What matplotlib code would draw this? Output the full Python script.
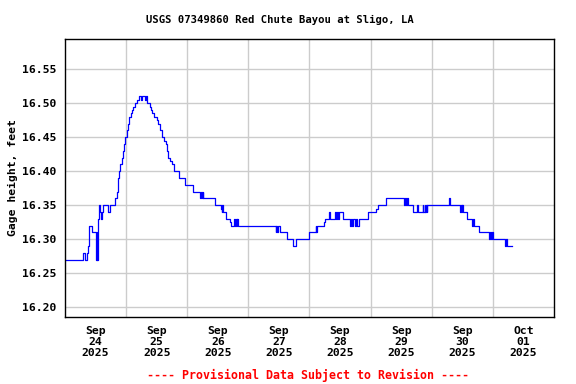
import numpy as np
import pandas as pd
import matplotlib
matplotlib.use('Agg')
import matplotlib.pyplot as plt
import matplotlib.dates as mdates

# hours since Sep 24 2025 00:00 and gage height (ft)
horas = [0, 7.2, 8.0, 8.5, 8.9, 9.3, 9.6, 10.5, 12.25, 12.5, 12.75, 13.0, 13.2, 13.5,
         13.7, 14.2, 14.7, 15.0, 17.0, 17.5, 19.8, 20.3, 20.8, 21.3, 21.7, 22.3, 22.7,
         23.2, 23.7, 24.5, 24.8, 25.3, 25.8, 26.3, 26.8, 27.5, 28.1, 28.9, 30.0, 30.3,
         31.5, 31.9, 32.3, 33.4, 33.8, 34.3, 34.8, 36.0, 36.5, 37.4, 38.0, 39.0, 39.6,
         40.0, 40.6, 41.4, 42.0, 42.7, 44.7, 47.0, 50.1, 53.0, 53.4, 53.8, 54.0, 54.3,
         58.8, 61.1, 61.5, 61.8, 62.0, 63.1, 64.8, 65.3, 66.5, 66.8, 67.1, 67.4, 67.7,
         68.0, 82.7, 83.0, 83.4, 83.8, 84.4, 87.0, 89.6, 90.6, 95.9, 98.5, 98.6, 98.9,
         101.7, 102.2, 103.8, 104.2, 106.0, 106.4, 106.8, 107.2, 107.7, 109.0, 111.9,
         112.3, 112.6, 113.0, 113.9, 114.3, 114.8, 115.3, 119.1, 122.3, 123.0, 126.0,
         133.1, 133.5, 133.9, 134.3, 134.8, 136.5, 138.3, 138.8, 140.4, 140.7, 141.2,
         141.5, 141.9, 142.1, 142.3, 150.9, 151.3, 155.1, 155.4, 155.7, 155.9, 156.1,
         157.7, 159.7, 160.1, 160.5, 162.7, 166.5, 166.9, 167.3, 167.6, 167.9, 172.8,
         173.1, 173.4, 175.4]
altura = [16.27, 16.28, 16.27, 16.28, 16.29, 16.30, 16.32, 16.31, 16.27, 16.31, 16.27,
          16.33, 16.34, 16.35, 16.34, 16.33, 16.34, 16.35, 16.34, 16.35, 16.36, 16.37,
          16.39, 16.40, 16.41, 16.42, 16.43, 16.44, 16.45, 16.46, 16.47, 16.48, 16.485,
          16.49, 16.495, 16.50, 16.505, 16.51, 16.505, 16.51, 16.505, 16.51, 16.50,
          16.495, 16.49, 16.485, 16.48, 16.475, 16.47, 16.46, 16.45, 16.445, 16.44,
          16.43, 16.42, 16.415, 16.41, 16.40, 16.39, 16.38, 16.37, 16.36, 16.37, 16.36,
          16.37, 16.36, 16.35, 16.345, 16.34, 16.35, 16.34, 16.33, 16.325, 16.32, 16.33,
          16.32, 16.33, 16.32, 16.33, 16.32, 16.31, 16.32, 16.31, 16.32, 16.31, 16.30,
          16.29, 16.30, 16.31, 16.32, 16.31, 16.32, 16.325, 16.33, 16.34, 16.33, 16.34,
          16.33, 16.34, 16.33, 16.34, 16.33, 16.32, 16.33, 16.32, 16.33, 16.32, 16.33,
          16.32, 16.33, 16.34, 16.345, 16.35, 16.36, 16.35, 16.36, 16.35, 16.36, 16.35,
          16.34, 16.35, 16.34, 16.35, 16.34, 16.35, 16.34, 16.35, 16.34, 16.35, 16.36,
          16.35, 16.34, 16.35, 16.34, 16.35, 16.34, 16.33, 16.32, 16.33, 16.32, 16.31,
          16.30, 16.31, 16.30, 16.31, 16.30, 16.29, 16.30, 16.29, 16.29]

y_ticks = [16.20, 16.25, 16.30, 16.35, 16.40, 16.45, 16.50, 16.55]
dias = pd.date_range('2025-09-24', '2025-10-01', freq='D')

inicio = pd.Timestamp('2025-09-24')
tiempo = inicio + pd.to_timedelta(horas, unit='h')

fuente = 'DejaVu Sans Mono'

fig = plt.figure(figsize=(5.76, 3.84), dpi=100)
ax = fig.add_axes([0.1128, 0.1753, 0.849, 0.7224])

ax.step(tiempo, altura, where='post', color='#0000FF', linewidth=0.9)

ax.set_xlim(pd.Timestamp('2025-09-24'), pd.Timestamp('2025-10-02'))
ax.set_ylim(16.186, 16.594)

# gridlines at midnight, labels at noon
ax.set_xticks([d for d in pd.date_range('2025-09-25', '2025-10-01', freq='D')], minor=True)
ax.set_xticks([d + pd.Timedelta(hours=12) for d in dias])
ax.set_xticklabels([d.strftime('%b\n%d\n%Y') for d in dias], fontfamily=fuente,
                   fontweight='bold', fontsize=8.2, linespacing=1.12)
ax.set_yticks(y_ticks)
ax.set_yticklabels(['%.2f' % v for v in y_ticks], fontfamily=fuente,
                   fontweight='bold', fontsize=8.2)
ax.tick_params(axis='both', which='both', length=0)
ax.tick_params(axis='x', pad=6.5)
ax.tick_params(axis='y', pad=6)

ax.grid(True, which='minor', axis='x', color='#CCCCCC', linewidth=1)
ax.grid(True, which='major', axis='y', color='#CCCCCC', linewidth=1)
ax.grid(False, which='major', axis='x')
ax.set_axisbelow(True)
for s in ax.spines.values():
    s.set_linewidth(1)
    s.set_color('black')

ax.set_ylabel('Gage height, feet', fontfamily=fuente, fontweight='bold', fontsize=8.2)
ax.yaxis.set_label_coords(-0.097, 0.5)

fig.text(280 / 576, 1 - 20 / 384, 'USGS 07349860 Red Chute Bayou at Sligo, LA',
         ha='center', va='center', fontfamily=fuente, fontweight='bold', fontsize=7.6)
fig.text(308 / 576, 1 - 375 / 384, '---- Provisional Data Subject to Revision ----',
         ha='center', va='center', fontfamily=fuente, fontweight='bold', fontsize=8.4,
         color='red')

fig.savefig('out.png', dpi=100)
